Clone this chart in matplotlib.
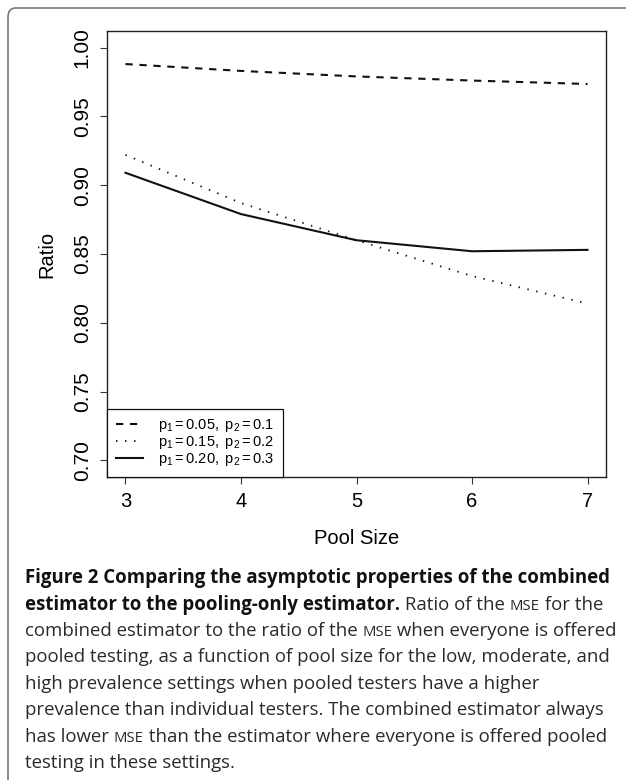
import matplotlib
matplotlib.use('Agg')
import matplotlib.pyplot as plt
from matplotlib.patches import FancyBboxPatch

# values
pool_size = [3, 4, 5, 6, 7]
ratio_low = [0.988, 0.983, 0.979, 0.976, 0.9735]
ratio_mod = [0.922, 0.887, 0.860, 0.834, 0.814]
ratio_high = [0.909, 0.879, 0.860, 0.852, 0.853]
legend_labels = [r'$\mathregular{p_1 = 0.05,\ p_2 = 0.1}$',
                 r'$\mathregular{p_1 = 0.15,\ p_2 = 0.2}$',
                 r'$\mathregular{p_1 = 0.20,\ p_2 = 0.3}$']
yticks = [0.70, 0.75, 0.80, 0.85, 0.90, 0.95, 1.00]

# caption, one list of (text, style) per line
caption = [
    [('Figure 2 Comparing the asymptotic properties of the combined', 'b')],
    [('estimator to the pooling-only estimator.', 'b'), (' Ratio of the ', 'r'), ('MSE', 's'), (' for the', 'r')],
    [('combined estimator to the ratio of the ', 'r'), ('MSE', 's'), (' when everyone is offered', 'r')],
    [('pooled testing, as a function of pool size for the low, moderate, and', 'r')],
    [('high prevalence settings when pooled testers have a higher', 'r')],
    [('prevalence than individual testers. The combined estimator always', 'r')],
    [('has lower ', 'r'), ('MSE', 's'), (' than the estimator where everyone is offered pooled', 'r')],
    [('testing in these settings.', 'r')],
]

W, H = 626, 780
plt.rcParams['font.family'] = ['Liberation Sans', 'DejaVu Sans']
plt.rcParams['mathtext.fontset'] = 'custom'
plt.rcParams['mathtext.rm'] = 'Liberation Sans'
plt.rcParams['mathtext.it'] = 'Liberation Sans'

fig = plt.figure(figsize=(W / 100, H / 100), dpi=100)
ax = fig.add_axes([107 / W, 1 - 477 / H, (606 - 107) / W, (477 - 31) / H])

ax.plot(pool_size, ratio_low, color='#111111', lw=1.5, dashes=(3.5, 3.2), label=legend_labels[0])
ax.plot(pool_size, ratio_mod, color='#111111', lw=1.3, dashes=(0.8, 4.2), label=legend_labels[1])
ax.plot(pool_size, ratio_high, color='#111111', lw=1.5, label=legend_labels[2])

ax.set_xlim(3 - 0.16, 7 + 0.16)
ax.set_ylim(0.70 - 0.012, 1.00 + 0.012)
ax.set_xticks(pool_size)
ax.set_yticks(yticks)
ax.set_yticklabels(['%.2f' % v for v in yticks], rotation=90, va='center')
ax.tick_params(direction='out', length=5, width=0.8, labelsize=14.5, color='#333333', pad=6)
ax.tick_params(axis='y', pad=6, labelsize=15)
for s in ax.spines.values():
    s.set_linewidth(1.0)
    s.set_color('#222222')
ax.set_xlabel('Pool Size', fontsize=14.5, labelpad=13)
ax.set_ylabel('Ratio', fontsize=14.5, labelpad=12)

leg = ax.legend(loc='lower left', borderaxespad=0, fancybox=False, edgecolor='#111111',
                framealpha=1, fontsize=10.5, handlelength=1.9, handletextpad=1.0,
                labelspacing=0.0, borderpad=0.6)
leg.get_frame().set_linewidth(0.9)

# rounded page border, only top and left edges visible
fig.patches.append(FancyBboxPatch((8 / W, -0.05), 1.2, 1 - 8 / H + 0.05,
                                  boxstyle='round,pad=0,rounding_size=0.012',
                                  transform=fig.transFigure, fill=False,
                                  edgecolor='#777777', lw=1.2))

# caption
cap_font = 'Open Sans'
renderer = fig.canvas.get_renderer()
probe = fig.text(0, 0, caption[0][0][0], fontsize=10, fontweight='bold', family=cap_font)
w10 = probe.get_window_extent(renderer).width
probe.remove()
cap_size = 10 * (609 - 25) / w10
styles = {'b': dict(fontsize=cap_size, fontweight='bold', color='#111111'),
          'r': dict(fontsize=cap_size, fontweight='normal', color='#2a2a2a'),
          's': dict(fontsize=cap_size * 0.8, fontweight='normal', color='#2a2a2a')}
for i, line in enumerate(caption):
    y = 1 - (768 - 26.4 * (7 - i)) / H
    x = 25
    for txt, st in line:
        t = fig.text(x / W, y, txt, family=cap_font, va='baseline', ha='left', **styles[st])
        x += t.get_window_extent(renderer).width

fig.savefig('out.png', dpi=100)
